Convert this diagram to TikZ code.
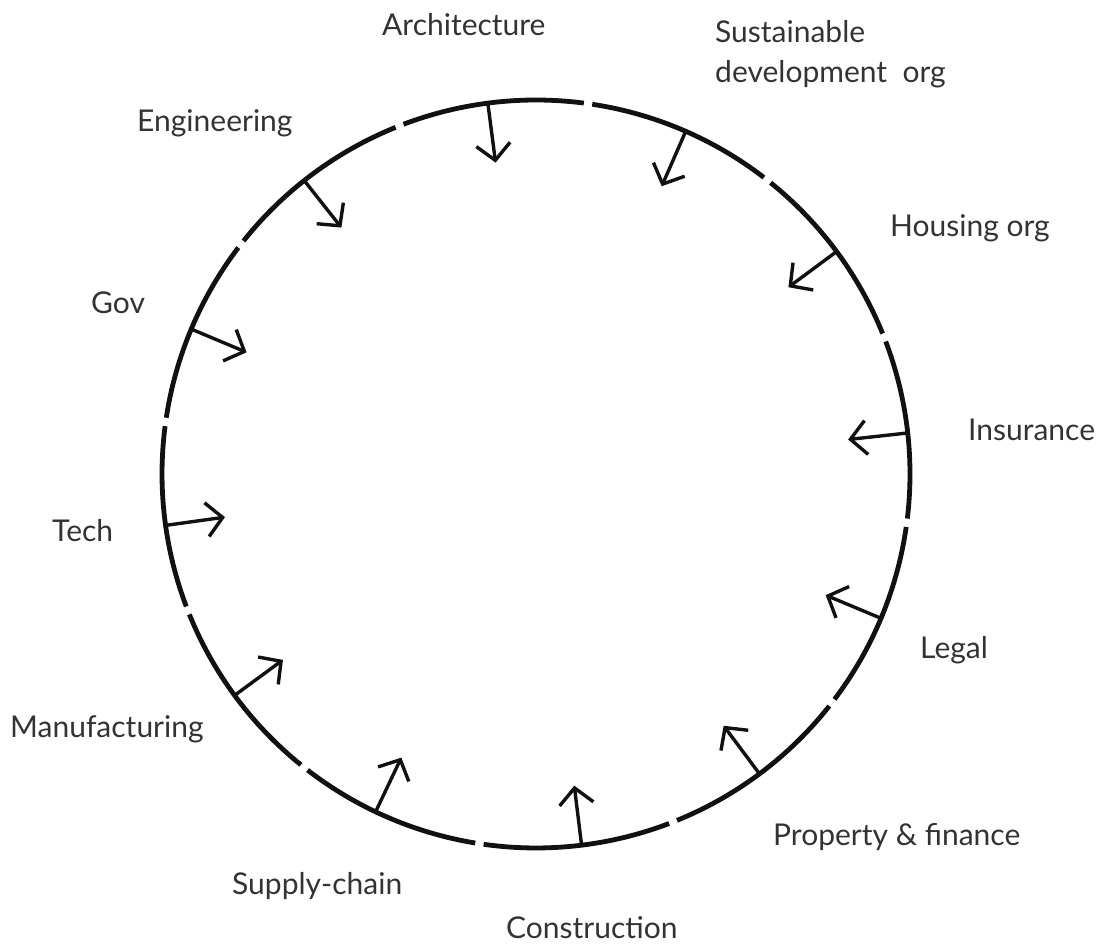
\documentclass[tikz,border=0pt]{standalone}
\usepackage{fontspec}
\setmainfont{Lato}
\usetikzlibrary{arrows.meta}
\definecolor{ink}{HTML}{111111}
\definecolor{txt}{HTML}{333333}
\begin{document}
\begin{tikzpicture}[x=1pt,y=1pt,
  ring/.style={line width=4.8pt, draw=ink},
  feed/.style={line width=3.4pt, draw=ink, -{Straight Barb[length=16pt,width=34pt]}},
  lbl/.style={inner sep=0pt, anchor=base west, text=txt, font=\fontsize{30}{40}\selectfont, align=left}]
\useasboundingbox (0,0) rectangle (1100,944);
\coordinate (c) at (536,470);
\foreach \a/\b in {21.4/51.8, 51.8/82, 82/111.4, 111.4/142.1, 142.1/172, 172/201.4, 201.4/231.7, 231.7/261.3, 261.3/291.5, 291.5/322.3, 322.3/352.5, 352.5/381.4} {
  \pgfmathsetmacro\sa{\a+0.65}
  \pgfmathsetmacro\ea{\b-0.65}
  \draw[ring] ([shift={(\sa:374)}]c) arc[start angle=\sa, end angle=\ea, radius=374];
}
\foreach \t [count=\i] in {6.3,36.5,66.4,97.4,128.3,157.2,187.9,216.3,244.6,277,306.7,337.3} {
  \coordinate (b\i) at ([shift={(\t:374)}]c);
  \coordinate (h\i) at ([shift={(\t:314)}]c);
  \draw[feed] (b\i) -- (h\i);
}
\node[lbl] (arch) at (382,908) {Architecture};
\node[lbl] (sus) at (715,861) {Sustainable\\development\ \ org};
\node[lbl] (eng) at (137,812) {Engineering};
\node[lbl] (hous) at (890,707) {Housing org};
\node[lbl] (gov) at (91,630) {Gov};
\node[lbl] (ins) at (968,503) {Insurance};
\node[lbl] (tech) at (52,402) {Tech};
\node[lbl] (legal) at (920,285) {Legal};
\node[lbl] (manu) at (10,206) {Manufacturing};
\node[lbl] (prop) at (773,98) {Property \& finance};
\node[lbl] (sup) at (232,49) {Supply-chain};
\node[lbl] (cons) at (506,5) {Construction};
\end{tikzpicture}
\end{document}
